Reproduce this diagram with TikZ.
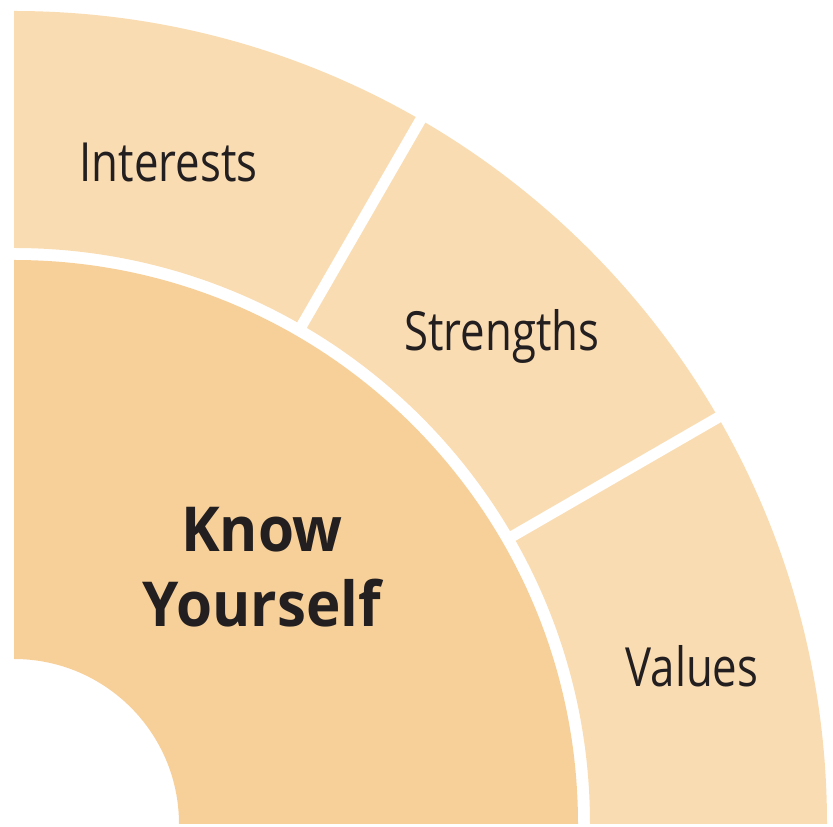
\documentclass[tikz,border=0pt]{standalone}
\usepackage{fontspec}
\setmainfont[FakeStretch=0.81]{Open Sans}
\newfontfamily\kyfont[FakeStretch=0.94]{Open Sans}
\definecolor{innerc}{HTML}{F7D099}
\definecolor{outerc}{HTML}{FADCB2}
\definecolor{txt}{HTML}{231F20}
\begin{document}
\begin{tikzpicture}[x=1pt,y=1pt,
  lbl/.style={text=txt,inner sep=0pt,font=\fontsize{54}{60}\selectfont,anchor=base},
  bold/.style={text=txt,inner sep=0pt,font=\kyfont\fontsize{62}{75}\selectfont\bfseries,align=center},
  sep/.style={draw=white,line width=11pt}]
\useasboundingbox (-14,-3) rectangle (819,824);
% inner ring
\fill[innerc] (165,0) -- (564,0) arc[start angle=0,end angle=90,radius=564]
  -- (0,165) arc[start angle=90,end angle=0,radius=165] -- cycle;
% outer ring
\fill[outerc] (576,0) -- (813,0) arc[start angle=0,end angle=90,radius=813]
  -- (0,576) arc[start angle=90,end angle=0,radius=576] -- cycle;
\coordinate (a1) at (60:570);
\coordinate (b1) at (60:820);
\coordinate (a2) at (30:570);
\coordinate (b2) at (30:820);
\draw[sep] (a1) -- (b1);
\draw[sep] (a2) -- (b2);
\node[lbl] (interests) at (154.5,642) {Interests};
\node[lbl] (strengths) at (488,473) {Strengths};
\node[lbl] (values) at (678,137) {Values};
\node[bold] (know) at (248,257) {Know\\Yourself};
\end{tikzpicture}
\end{document}
